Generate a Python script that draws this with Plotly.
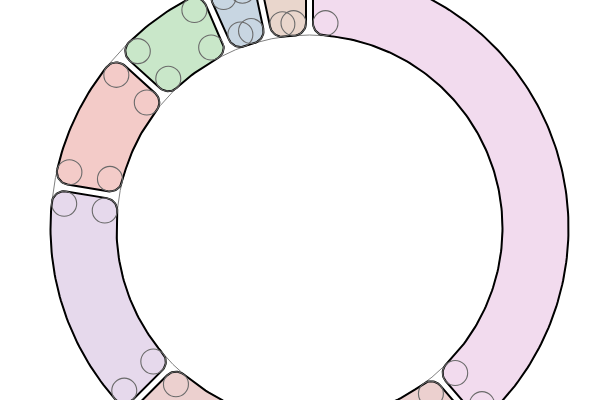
import numpy as np
import plotly.graph_objects as go

# ---- data (clockwise from 12 o'clock) ----
labels = ["A", "B", "C", "D", "E", "F", "G"]
values = [38.7, 23.8, 15.1, 9.1, 6.6, 3.35, 3.35]
colors = ["#f2dbee", "#ecd0cf", "#e6d9ec", "#f3cbc8", "#c9e7c9", "#c8d6e2", "#e9d6cc"]

# ---- geometry / style ----
CX, CY = 309.5, 228.0        # centre in pixel space
R_OUT, R_IN = 259.0, 193.0
RC = 12.5                    # corner radius
HALF_PAD = 3.5               # half of the linear gap between slices
W, H = 600, 400


def P(rho, phi):
    return np.array([rho * np.sin(phi), rho * np.cos(phi)])


def u(phi):
    return np.array([np.sin(phi), np.cos(phi)])


def t(phi):
    return np.array([np.cos(phi), -np.sin(phi)])


def fillet(c, rad, v0, v1, n=14):
    a = np.arctan2(v0[1], v0[0])
    b = np.arctan2(v1[1], v1[0])
    dlt = (b - a + np.pi) % (2 * np.pi) - np.pi
    ang = np.linspace(a, a + dlt, n)
    return [c + rad * np.array([np.cos(q), np.sin(q)]) for q in ang]


def ring_arc(rho, a0, a1, n):
    return [P(rho, q) for q in np.linspace(a0, a1, max(n, 2))]


fig = go.Figure()
shapes = []

# thin full outlines of the ring
for rr in (R_OUT, R_IN):
    shapes.append(dict(type="circle", xref="x", yref="y", layer="below",
                       x0=-rr, x1=rr, y0=-rr, y1=rr,
                       line=dict(color="#808080", width=1)))

total = float(sum(values))
start = 0.0
for lab, val, col in zip(labels, values, colors):
    span = val / total * 2 * np.pi
    p0, p1 = start, start + span
    start = p1
    h = span / 2
    sh = np.sin(h) if h < np.pi / 2 else 1.0
    rco = min(RC, (R_OUT * sh - HALF_PAD) / (1 + sh))
    rci = min(RC, (R_IN * sh - HALF_PAD) / (1 - sh)) if sh < 1 else RC
    do = np.arcsin((HALF_PAD + rco) / (R_OUT - rco))
    di = np.arcsin((HALF_PAD + rci) / (R_IN + rci))
    aso, aeo = p0 + do, p1 - do
    asi, aei = p0 + di, p1 - di
    Cso, Ceo = P(R_OUT - rco, aso), P(R_OUT - rco, aeo)
    Csi, Cei = P(R_IN + rci, asi), P(R_IN + rci, aei)

    pts = []
    pts += ring_arc(R_OUT, aso, aeo, int(abs(aeo - aso) * 180 / np.pi) + 2)
    pts += fillet(Ceo, rco, u(aeo), t(p1))
    pts += fillet(Cei, rci, t(p1), -u(aei))
    pts += ring_arc(R_IN, aei, asi, int(abs(aei - asi) * 180 / np.pi) + 2)
    pts += fillet(Csi, rci, -u(asi), -t(p0))
    pts += fillet(Cso, rco, -t(p0), u(aso))
    pts.append(pts[0])
    xs = [p[0] for p in pts]
    ys = [p[1] for p in pts]
    fig.add_trace(go.Scatter(x=xs, y=ys, mode="lines", fill="toself",
                             fillcolor=col, line=dict(color="#000000", width=2),
                             name=lab, hoverinfo="name"))

    # corner circles (unclamped radius)
    dO = np.arcsin((HALF_PAD + RC) / (R_OUT - RC))
    dI = np.arcsin((HALF_PAD + RC) / (R_IN + RC))
    for rho, ang in ((R_OUT - RC, p0 + dO), (R_OUT - RC, p1 - dO),
                     (R_IN + RC, p0 + dI), (R_IN + RC, p1 - dI)):
        c = P(rho, ang)
        shapes.append(dict(type="circle", xref="x", yref="y", layer="above",
                           x0=c[0] - RC, x1=c[0] + RC, y0=c[1] - RC, y1=c[1] + RC,
                           line=dict(color="#6a6a6a", width=1.1)))

fig.update_layout(
    width=W, height=H,
    margin=dict(l=0, r=0, t=0, b=0),
    paper_bgcolor="white", plot_bgcolor="white",
    showlegend=False,
    shapes=shapes,
    xaxis=dict(range=[-CX, W - CX], visible=False, fixedrange=True),
    yaxis=dict(range=[CY - H, CY], visible=False, fixedrange=True),
)

fig.write_html("out.html",
               config={"displayModeBar": False, "staticPlot": True},
               post_script="document.body.style.margin='0';"
                           "document.documentElement.style.overflow='hidden';")
